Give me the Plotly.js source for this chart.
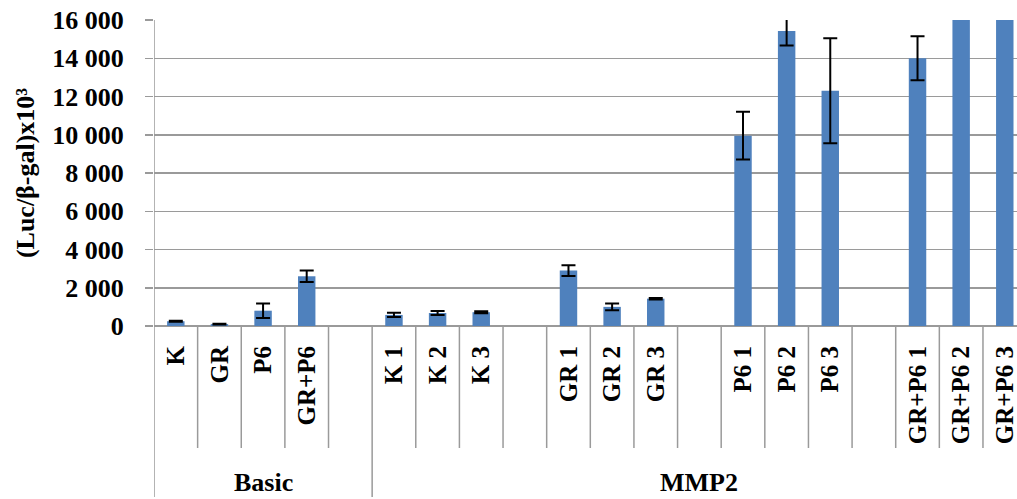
<!DOCTYPE html>
<html>
<head>
<meta charset="utf-8">
<script src="https://cdn.plot.ly/plotly-3.0.1.min.js"></script>
<style>html,body{margin:0;padding:0;background:#fff;}#chart{width:1017px;height:499px;}</style>
</head>
<body>
<div id="chart"></div>
<script>
// Categories (blank slots separate the sub-groups)
const categories = ["K", "GR", "P6", "GR+P6", " ",
  "K 1", "K 2", "K 3", "  ",
  "GR 1", "GR 2", "GR 3", "   ",
  "P6 1", "P6 2", "P6 3", "    ",
  "GR+P6 1", "GR+P6 2", "GR+P6 3"];
const values = [250, 100, 800, 2600, null,
  580, 680, 720, null,
  2900, 1000, 1430, null,
  9950, 15420, 12300, null,
  14000, 18000, 18500];
const errors = [30, 20, 380, 300, null,
  110, 110, 50, null,
  280, 170, 40, null,
  1250, 750, 2750, null,
  1150, 0, 0];
const groupNames = ["Basic", "MMP2"];
const groupStart = [0, 5];   // first slot index of each group
const groupEnd = [4, 19];    // last slot index of each group
const yTicks = [0, 2000, 4000, 6000, 8000, 10000, 12000, 14000, 16000];

const serif = "Liberation Serif, Times New Roman, serif";
const gray = "#9a9a9a";
const plotH = 306;

const shapes = [];
// short separators between categories
for (let i = 0; i < categories.length - 1; i++) {
  if (groupStart.includes(i + 1)) continue;
  shapes.push({type: "line", xref: "x", yref: "paper", x0: i + 0.5, x1: i + 0.5,
    y0: 0, y1: -122 / plotH, line: {color: gray, width: 1.5}});
}
// long group separators
groupStart.forEach(s => {
  shapes.push({type: "line", xref: "x", yref: "paper", x0: s - 0.5, x1: s - 0.5,
    y0: (s === 0 ? 1 : 0), y1: -171 / plotH, line: {color: gray, width: 1.5}});
});

const annotations = groupNames.map((g, k) => ({
  text: g, xref: "x", yref: "paper", x: (groupStart[k] + groupEnd[k]) / 2,
  y: -156 / plotH, yanchor: "middle", xanchor: "center", showarrow: false,
  font: {family: serif, size: 26, color: "#000", weight: "bold"}
}));

const trace = {
  type: "bar", x: categories, y: values,
  marker: {color: "#4F81BD"},
  width: 0.4,
  error_y: {type: "data", array: errors, visible: true, color: "#000", thickness: 2, width: 7},
  hoverinfo: "x+y"
};

const layout = {
  width: 1017, height: 499,
  margin: {l: 154, r: 0, t: 20, b: 173},
  paper_bgcolor: "#fff", plot_bgcolor: "#fff",
  showlegend: false,
  separators: ". ",
  xaxis: {
    type: "category", categoryorder: "array", categoryarray: categories,
    range: [-0.5, 19.28], showgrid: false, zeroline: false,
    showline: false, ticks: "", tickangle: -90,
    ticklabelstandoff: 14,
    tickfont: {family: serif, size: 25, color: "#000", weight: "bold"}
  },
  yaxis: {
    range: [0, 16000], tickvals: yTicks, separatethousands: true, tickformat: ",d",
    showgrid: true, gridcolor: gray, gridwidth: 1.5,
    zeroline: true, zerolinecolor: gray, zerolinewidth: 1.5,
    showline: false, ticks: "outside", ticklen: 8, tickcolor: gray, tickwidth: 1.5,
    ticklabelstandoff: 16,
    tickfont: {family: serif, size: 26, color: "#000", weight: "bold"},
    title: {text: "(Luc/β-gal)x10³", standoff: 10,
      font: {family: serif, size: 26, color: "#000", weight: "bold"}}
  },
  shapes: shapes,
  annotations: annotations
};

Plotly.newPlot("chart", [trace], layout, {displayModeBar: false, staticPlot: true});
</script>
</body>
</html>
